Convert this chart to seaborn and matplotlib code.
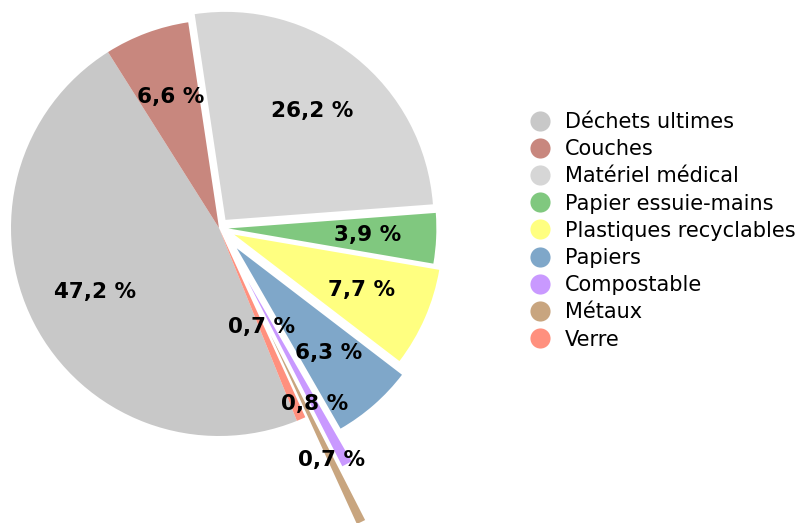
import numpy as np
import matplotlib
matplotlib.use("Agg")
import matplotlib.pyplot as plt
from matplotlib.lines import Line2D
import seaborn as sns

categories = ["Déchets ultimes", "Couches", "Matériel médical", "Papier essuie-mains",
              "Plastiques recyclables", "Papiers", "Compostable", "Métaux", "Verre"]
values = [47.2, 6.6, 26.2, 3.9, 7.7, 6.3, 0.8, 0.7, 0.7]
label_texts = ["47,2 %", "6,6 %", "26,2 %", "3,9 %", "7,7 %", "6,3 %", "0,8 %", "0,7 %", "0,7 %"]

colors = ["#c8c8c8", "#c8877e", "#d6d6d6", "#80c87f", "#ffff80",
          "#7fa7c9", "#c999ff", "#c8a57f", "#ff907e"]
explode = [0.0, 0.0, 0.05, 0.045, 0.08, 0.13, 0.29, 0.57, 0.0]
label_r = [0.67, 0.67, 0.67, 0.67, 0.67, 0.67, 0.67, 0.67, 0.52]

sns.set_theme(style="white")
plt.rcParams['font.family'] = ['DejaVu Sans']

W, H = 801, 523
fig = plt.figure(figsize=(W / 100, H / 100), dpi=100)
ax = fig.add_axes([0, 0, 1, 1])

cx, cy, R = 219, 228, 208
wedges, _ = ax.pie(values, colors=colors, explode=explode, startangle=292,
                   counterclock=False, radius=1.0,
                   wedgeprops=dict(linewidth=0))

for w, txt, lr in zip(wedges, label_texts, label_r):
    mid = np.deg2rad((w.theta1 + w.theta2) / 2)
    x0, y0 = w.center
    ax.text(x0 + lr * np.cos(mid), y0 + lr * np.sin(mid), txt,
            ha="center", va="center", fontsize=15.5, fontweight="bold", color="black")

ax.set_xlim(-cx / R, (W - cx) / R)
ax.set_ylim(-(H - cy) / R, cy / R)
ax.set_aspect("equal", adjustable="datalim")
ax.axis("off")

handles = [Line2D([0], [0], marker="o", linestyle="none", markersize=14.5,
                  markerfacecolor=c, markeredgewidth=0) for c in colors]
fig.legend(handles, categories, loc="upper left",
           bbox_to_anchor=(529 / W, 1 - 112 / H), frameon=False,
           fontsize=15, labelspacing=0.345, handletextpad=0.62,
           handlelength=1.1, borderaxespad=0, borderpad=0, labelcolor="black")

fig.savefig("out.png", dpi=100)
